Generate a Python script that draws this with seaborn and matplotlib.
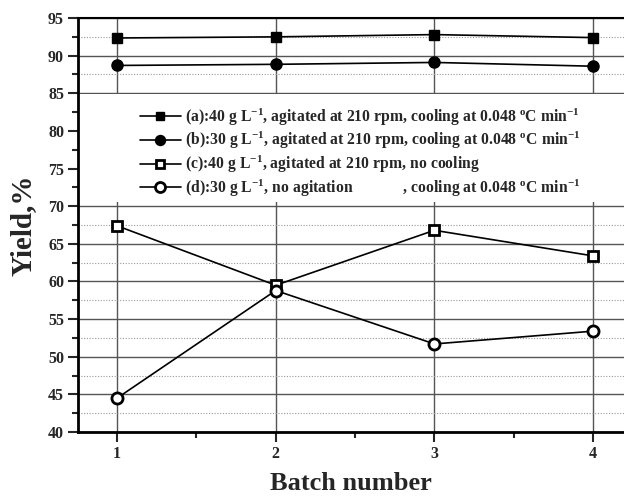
import matplotlib
matplotlib.use("Agg")
import matplotlib.pyplot as plt
from matplotlib.ticker import MultipleLocator
import seaborn as sns
import pandas as pd

# Yield (%) for each batch under four crystallisation conditions
batches = [1, 2, 3, 4]
yield_a = [92.35, 92.5, 92.8, 92.4]
yield_b = [88.7, 88.85, 89.1, 88.6]
yield_c = [67.4, 59.5, 66.8, 63.4]
yield_d = [44.5, 58.8, 51.7, 53.4]

labels = [
    r"(a):40 g L$^{\mathbf{-1}}$, agitated at 210 rpm, cooling at 0.048 $^{\mathbf{o}}$C min$^{\mathbf{-1}}$",
    r"(b):30 g L$^{\mathbf{-1}}$, agitated at 210 rpm, cooling at 0.048 $^{\mathbf{o}}$C min$^{\mathbf{-1}}$",
    r"(c):40 g L$^{\mathbf{-1}}$, agitated at 210 rpm, no cooling",
    r"(d):30 g L$^{\mathbf{-1}}$, no agitation             , cooling at 0.048 $^{\mathbf{o}}$C min$^{\mathbf{-1}}$",
]

sns.set_style("white")
plt.rcParams["font.family"] = ["Liberation Serif", "DejaVu Serif"]
plt.rcParams["font.weight"] = "bold"
plt.rcParams["mathtext.fontset"] = "custom"
plt.rcParams["mathtext.rm"] = "Liberation Serif:bold"
plt.rcParams["mathtext.bf"] = "Liberation Serif:bold"
plt.rcParams["mathtext.it"] = "Liberation Serif:bold"

df = pd.DataFrame({
    "batch": batches * 4,
    "yield": yield_a + yield_b + yield_c + yield_d,
    "series": sum([[lab] * len(batches) for lab in labels], []),
})

fig = plt.figure(figsize=(6.24, 5.01), dpi=100)
ax = fig.add_axes([0.125, 0.1377, 0.875, 0.8263])

styles = [
    dict(marker="s", mfc="black", mec="black", ms=7, mew=1.0),
    dict(marker="o", mfc="black", mec="black", ms=8, mew=1.0),
    dict(marker="s", mfc="white", mec="black", ms=7, mew=2.0),
    dict(marker="o", mfc="white", mec="black", ms=8, mew=2.0),
]

for lab, st in zip(labels, styles):
    sub = df[df["series"] == lab]
    sns.lineplot(data=sub, x="batch", y="yield", ax=ax, color="black",
                 lw=1.2, label=lab, zorder=3, **st)

ax.set_xlim(0.754, 4.195)
ax.set_ylim(40, 95)
ax.xaxis.set_major_locator(MultipleLocator(1))
ax.xaxis.set_minor_locator(MultipleLocator(0.5))
ax.yaxis.set_major_locator(MultipleLocator(5))
ax.yaxis.set_minor_locator(MultipleLocator(2.5))

ax.set_axisbelow(True)
ax.grid(which="major", color="#555555", lw=1.0, ls="-")
ax.grid(which="minor", axis="y", color="#999999", lw=0.8, ls=(0, (1, 1.5)))

# white panel behind the legend
ax.axhspan(70.5, 84.9, xmin=0, xmax=1, color="white", zorder=1, lw=0)

for side in ["left", "bottom"]:
    ax.spines[side].set_linewidth(2.0)
    ax.spines[side].set_color("black")
ax.spines["top"].set_linewidth(1.5)
ax.spines["top"].set_color("black")
ax.spines["right"].set_visible(False)

ax.tick_params(axis="both", which="major", direction="out", length=7, width=1.5,
               labelsize=11.5, left=True, bottom=True, pad=3)
ax.tick_params(axis="both", which="minor", direction="out", length=4, width=1.5,
               left=True, bottom=True)
for t in ax.get_xticklabels() + ax.get_yticklabels():
    t.set_fontweight("bold")

ax.set_xlabel("Batch number", fontsize=19, fontweight="bold", labelpad=7)
ax.set_ylabel("Yield,%", fontsize=21, fontweight="bold", labelpad=8)

leg = ax.legend(loc="center left", bbox_to_anchor=(0.113, 0.675), frameon=False,
                fontsize=11.3, handlelength=2.6, handletextpad=0.3,
                labelspacing=0.15, borderaxespad=0, borderpad=0,
                markerscale=0.9)
for txt in leg.get_texts():
    txt.set_fontweight("bold")

fig.savefig("out.png", dpi=100)
